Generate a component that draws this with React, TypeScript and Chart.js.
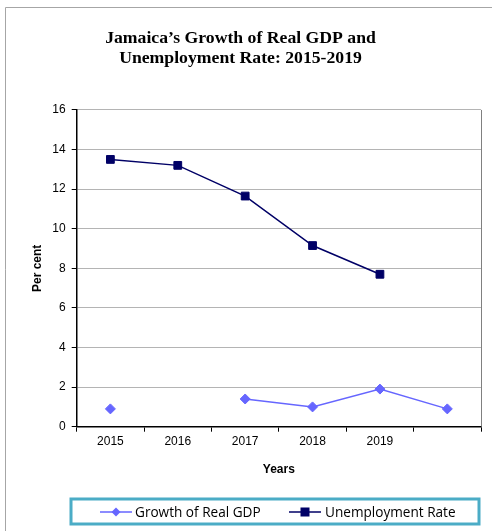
import React, { useEffect, useRef } from "react";
import { Chart, registerables } from "chart.js";

Chart.register(...registerables);

const TITLE_LINES = ["Jamaica\u2019s Growth of Real GDP and", "Unemployment Rate: 2015-2019"];
const CATEGORIES = ["2015", "2016", "2017", "2018", "2019", ""];
const GDP_GROWTH: (number | null)[] = [0.9, null, 1.4, 1.0, 1.9, 0.9];
const UNEMPLOYMENT: (number | null)[] = [13.5, 13.2, 11.65, 9.15, 7.7, null];
const SERIES_NAMES = ["Growth of Real GDP", "Unemployment Rate"];
const Y_TICKS_STEP = 2;
const Y_MAX = 16;

const GDP_COLOR = "#6666ff";
const UNEMP_COLOR = "#000066";

const W = 492;
const H = 531;

const framePlugin = {
  id: "framePlugin",
  afterDraw(chart: any) {
    const ctx = chart.ctx;
    const a = chart.chartArea;
    ctx.save();
    // outer frame
    ctx.strokeStyle = "#a6a6a6";
    ctx.lineWidth = 1;
    ctx.beginPath();
    ctx.moveTo(5.5, H);
    ctx.lineTo(5.5, 7.5);
    ctx.lineTo(W, 7.5);
    ctx.stroke();
    // right plot border
    ctx.strokeStyle = "#808080";
    ctx.beginPath();
    ctx.moveTo(Math.round(a.right) + 0.5, a.top);
    ctx.lineTo(Math.round(a.right) + 0.5, a.bottom);
    ctx.stroke();

    // legend box
    const lx = 71, ly = 499, lw = 408, lh = 25;
    ctx.strokeStyle = "#4bacc6";
    ctx.lineWidth = 3;
    ctx.strokeRect(lx, ly, lw, lh);

    const cy = 512;
    ctx.font = "13.6px 'Open Sans'";
    ctx.textBaseline = "middle";
    ctx.textAlign = "left";
    // item 1
    ctx.lineWidth = 1.5;
    ctx.strokeStyle = GDP_COLOR;
    ctx.beginPath();
    ctx.moveTo(100, cy);
    ctx.lineTo(132, cy);
    ctx.stroke();
    ctx.fillStyle = GDP_COLOR;
    ctx.beginPath();
    ctx.moveTo(116, cy - 4.5);
    ctx.lineTo(120.5, cy);
    ctx.lineTo(116, cy + 4.5);
    ctx.lineTo(111.5, cy);
    ctx.closePath();
    ctx.fill();
    ctx.fillStyle = "#000";
    ctx.fillText(SERIES_NAMES[0], 135, cy + 1);
    // item 2
    ctx.strokeStyle = UNEMP_COLOR;
    ctx.beginPath();
    ctx.moveTo(289, cy);
    ctx.lineTo(321, cy);
    ctx.stroke();
    ctx.fillStyle = UNEMP_COLOR;
    ctx.fillRect(300.5, cy - 4.5, 9, 9);
    ctx.fillStyle = "#000";
    ctx.fillText(SERIES_NAMES[1], 325, cy + 1);
    ctx.restore();
  },
};

export default function App() {
  const ref = useRef<HTMLCanvasElement | null>(null);
  useEffect(() => {
    if (!ref.current) return;
    const chart = new Chart(ref.current, {
      type: "line",
      data: {
        labels: CATEGORIES,
        datasets: [
          {
            label: SERIES_NAMES[0],
            data: GDP_GROWTH,
            borderColor: GDP_COLOR,
            backgroundColor: GDP_COLOR,
            borderWidth: 1.5,
            pointStyle: "rectRot",
            pointRadius: 5,
            pointBorderWidth: 1,
            spanGaps: false,
          },
          {
            label: SERIES_NAMES[1],
            data: UNEMPLOYMENT,
            borderColor: UNEMP_COLOR,
            backgroundColor: UNEMP_COLOR,
            borderWidth: 1.5,
            pointStyle: "rect",
            pointRadius: 5.5,
            pointBorderWidth: 1,
          },
        ],
      },
      options: {
        animation: false,
        responsive: false,
        maintainAspectRatio: false,
        layout: { padding: { left: 0, right: 11, top: 0, bottom: 41 } },
        plugins: {
          legend: { display: false },
          tooltip: { enabled: false },
          title: {
            display: true,
            text: TITLE_LINES,
            color: "#000",
            font: { family: "'Liberation Serif'", size: 17.7, weight: "bold", lineHeight: 1.1 },
            padding: { top: 29, bottom: 42 },
          },
        },
        scales: {
          x: {
            offset: true,
            grid: {
              display: true,
              drawOnChartArea: false,
              offset: true,
              tickLength: 5,
              tickColor: "#000",
            },
            border: { color: "#000", width: 1.5 },
            ticks: {
              color: "#000",
              font: { family: "'Liberation Sans'", size: 12 },
              padding: 3,
              maxRotation: 0,
              autoSkip: false,
            },
            title: {
              display: true,
              text: "Years",
              color: "#000",
              font: { family: "'Liberation Sans'", size: 12, weight: "bold" },
              padding: { top: 0, bottom: 13.5 },
            },
            afterFit: (s: any) => {
              s.height = 63.3;
            },
          },
          y: {
            min: 0,
            max: Y_MAX,
            grid: {
              color: "#b4b4b4",
              tickLength: 5,
              tickColor: "#000",
            },
            border: { color: "#000", width: 1.5 },
            ticks: {
              stepSize: Y_TICKS_STEP,
              color: "#000",
              font: { family: "'Liberation Sans'", size: 12 },
              padding: 6,
            },
            title: {
              display: true,
              text: "Per cent",
              color: "#000",
              font: { family: "'Liberation Sans'", size: 12, weight: "bold" },
              padding: { top: 30.5, bottom: 0 },
            },
            afterFit: (s: any) => {
              s.width = 76.7;
            },
          },
        },
      },
      plugins: [framePlugin],
    });
    return () => chart.destroy();
  }, []);
  return (
    <div style={{ position: "absolute", left: 0, top: 0, width: W, height: H, background: "#fff" }}>
      <canvas ref={ref} width={W} height={H} style={{ width: W, height: H, display: "block" }} />
    </div>
  );
}
